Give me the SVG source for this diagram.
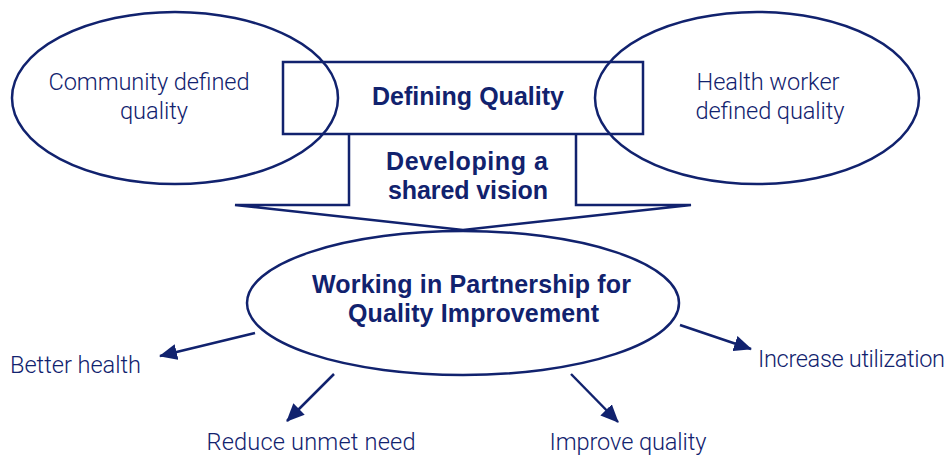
<svg xmlns="http://www.w3.org/2000/svg" width="947" height="456" viewBox="0 0 947 456">
<style>
.s{fill:none;stroke:#11226e;stroke-width:2.5}
.t{font-family:"Roboto","Liberation Sans",Arial,sans-serif;font-weight:300;font-size:23.6px;fill:#11226e;text-anchor:middle}
.b{font-family:"Liberation Sans",Arial,sans-serif;font-weight:bold;font-size:25px}
</style>
<defs><marker id="a" markerUnits="userSpaceOnUse" markerWidth="18" markerHeight="16" refX="17" refY="8" orient="auto"><path d="M0 0L18 8L0 16Z" fill="#11226e"/></marker></defs>
<rect width="947" height="456" fill="#fff"/>
<g id="defining"><rect class="s" x="283" y="62" width="360" height="72"/><text class="t b" x="468" y="105" textLength="192">Defining Quality</text></g>
<g id="vision"><path class="s" d="M349 133V205H235L463 230L691 205H576V133"/><text class="t b" x="467" y="170" textLength="162">Developing a</text><text class="t b" x="468" y="199" textLength="160">shared vision</text></g>
<g id="community"><ellipse class="s" cx="175" cy="98" rx="163" ry="86"/><text class="t" x="149" y="90" textLength="201">Community defined</text><text class="t" x="154" y="119">quality</text></g>
<g id="healthworker"><ellipse class="s" cx="757" cy="98" rx="162" ry="86"/><text class="t" x="768" y="90" textLength="143">Health worker</text><text class="t" x="770" y="119" textLength="149">defined quality</text></g>
<g id="partnership"><ellipse class="s" cx="463" cy="303" rx="216" ry="72"/><text class="t b" x="471.500" y="293" textLength="319">Working in Partnership for</text><text class="t b" x="473.500" y="322" textLength="251">Quality Improvement</text></g>
<g id="connectors"><line class="s" x1="255" y1="333" x2="160" y2="356" marker-end="url(#a)"/><line class="s" x1="334" y1="374" x2="287" y2="421" marker-end="url(#a)"/><line class="s" x1="571" y1="374" x2="618" y2="422" marker-end="url(#a)"/><line class="s" x1="680" y1="325" x2="751" y2="349" marker-end="url(#a)"/></g>
<g id="better"><text class="t" x="75.500" y="373" textLength="131">Better health</text></g>
<g id="reduce"><text class="t" x="311" y="450" textLength="209">Reduce unmet need</text></g>
<g id="improve"><text class="t" x="628" y="450" textLength="157">Improve quality</text></g>
<g id="increase"><text class="t" x="851.500" y="367" textLength="187">Increase utilization</text></g>
</svg>
